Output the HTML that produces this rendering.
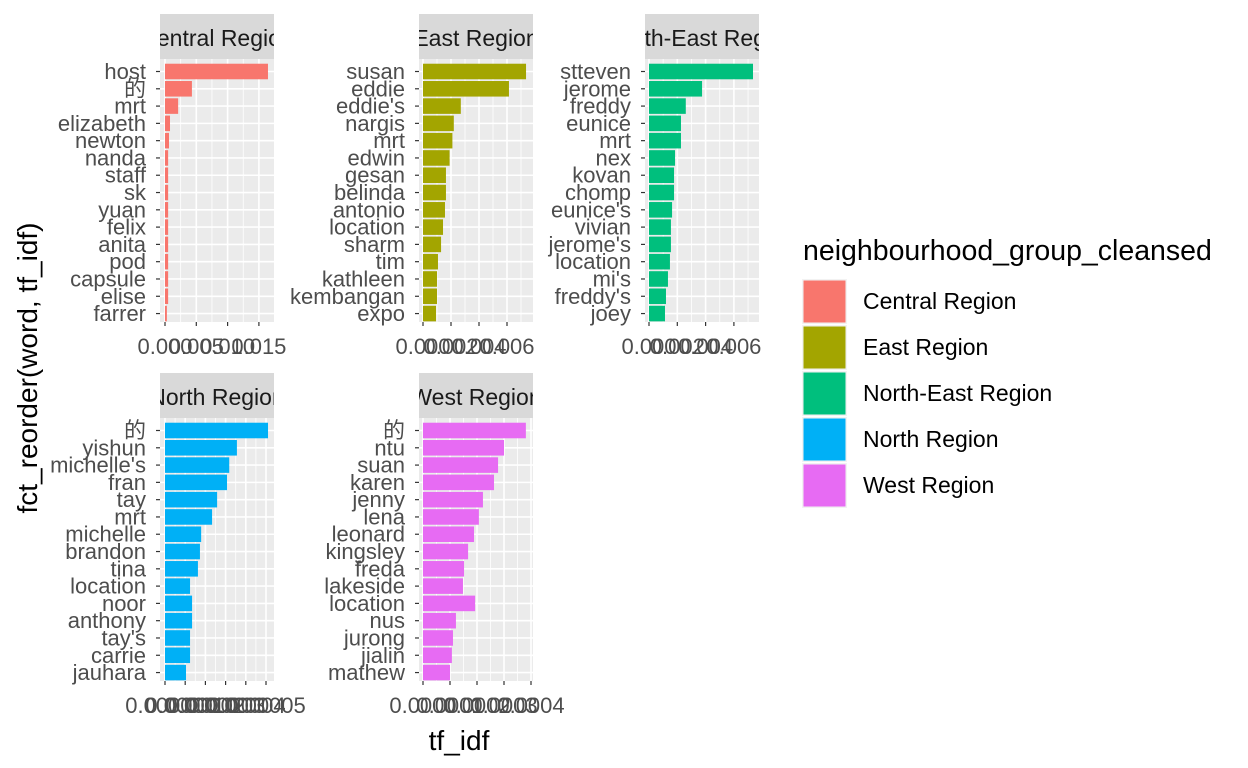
<!DOCTYPE html>
<html><head><meta charset="utf-8"><style>
body{margin:0;background:#fff;}
svg{display:block;font-family:"Liberation Sans","Noto Sans CJK SC",sans-serif;}
</style></head><body>
<svg id="c" width="1248" height="768"></svg>
<script>
const regions = ["Central Region","East Region","North-East Region","North Region","West Region"];
const colors = ["#F8766D","#A3A500","#00BF7D","#00B0F6","#E76BF3"];
const centralWords = ["host","的","mrt","elizabeth","newton","nanda","staff","sk","yuan","felix","anita","pod","capsule","elise","farrer"];
const centralValues = [0.01645,0.0043,0.0021,0.0008,0.00064,0.0005,0.0005,0.0005,0.0005,0.0005,0.0005,0.0005,0.0005,0.0005,0.0003];
const centralTicks = [0,0.005,0.010,0.015];
const centralTickLabels = ["0.000","0.005","0.010","0.015"];
const eastWords = ["susan","eddie","eddie's","nargis","mrt","edwin","gesan","belinda","antonio","location","sharm","tim","kathleen","kembangan","expo"];
const eastValues = [0.00736,0.00614,0.0027,0.0022,0.0021,0.0019,0.00164,0.00164,0.00157,0.00143,0.00129,0.00107,0.001,0.001,0.00093];
const eastTicks = [0,0.002,0.004,0.006];
const eastTickLabels = ["0.000","0.002","0.004","0.006"];
const neWords = ["stteven","jerome","freddy","eunice","mrt","nex","kovan","chomp","eunice's","vivian","jerome's","location","mi's","freddy's","joey"];
const neValues = [0.00735,0.00375,0.0026,0.00226,0.00226,0.00184,0.00177,0.00177,0.00163,0.00155,0.00155,0.00148,0.00134,0.0012,0.00113];
const neTicks = [0,0.002,0.004,0.006];
const neTickLabels = ["0.000","0.002","0.004","0.006"];
const northWords = ["的","yishun","michelle's","fran","tay","mrt","michelle","brandon","tina","location","noor","anthony","tay's","carrie","jauhara"];
const northValues = [0.000051,0.0000356,0.0000318,0.0000307,0.0000258,0.0000233,0.0000179,0.0000173,0.0000163,0.0000124,0.0000134,0.0000134,0.0000124,0.0000124,0.0000104];
const northTicks = [0,0.00001,0.00002,0.00003,0.00004,0.00005];
const northTickLabels = ["0.00000","0.00001","0.00002","0.00003","0.00004","0.00005"];
const westWords = ["的","ntu","suan","karen","jenny","lena","leonard","kingsley","freda","lakeside","location","nus","jurong","jialin","mathew"];
const westValues = [0.000381,0.0003,0.000278,0.000263,0.000222,0.000207,0.000189,0.000167,0.000152,0.000148,0.000193,0.000122,0.000111,0.000107,0.0001];
const westTicks = [0,0.0001,0.0002,0.0003,0.0004];
const westTickLabels = ["0.0000","0.0001","0.0002","0.0003","0.0004"];

const NS="http://www.w3.org/2000/svg";
const svg=document.getElementById('c');
function mk(t,a,p){const e=document.createElementNS(NS,t);for(const k in a)e.setAttribute(k,a[k]);(p||svg).appendChild(e);return e;}

const panels=[
 {w:centralWords,v:centralValues,t:centralTicks,tl:centralTickLabels,x:160,y:14,px:165,scale:31.3/0.005},
 {w:eastWords,v:eastValues,t:eastTicks,tl:eastTickLabels,x:419,y:14,px:423,scale:28/0.002},
 {w:neWords,v:neValues,t:neTicks,tl:neTickLabels,x:645,y:14,px:649,scale:28.3/0.002},
 {w:northWords,v:northValues,t:northTicks,tl:northTickLabels,x:160,y:373,px:165,scale:20.2/0.00001},
 {w:westWords,v:westValues,t:westTicks,tl:westTickLabels,x:419,y:373,px:423,scale:27/0.0001}
];
const W=114, SH=45, PH=263;
panels.forEach((p,i)=>{
  const g=mk('g',{});
  
  
  const cid='clip'+i;
  const cp=mk('clipPath',{id:cid},g);mk('rect',{x:p.x,y:p.y,width:W,height:SH},cp);
  const strip=mk('rect',{x:p.x,y:p.y,width:W,height:SH,fill:'#d9d9d9'},g);
  
  
  const st=mk('text',{x:p.x+W/2,y:p.y+32,'text-anchor':'middle','font-size':23,fill:'#1a1a1a','clip-path':'url(#'+cid+')'},g);
  st.textContent=regions[i];
  
  
  const top=p.y+SH, bot=top+PH;
  mk('rect',{x:p.x,y:top,width:W,height:PH,fill:'#ebebeb'},g);
  const xs=v=>p.px+v*p.scale;
  const step=p.t[1]-p.t[0];
  for(let k=0;k<=p.t.length;k++){const mx=xs(p.t[0]+step*(k+0.5)); if(mx<p.x+W) mk('line',{x1:mx,x2:mx,y1:top,y2:bot,stroke:'#fff','stroke-width':0.8},g);}
  p.t.forEach(t=>{const tx=xs(t);if(tx<=p.x+W)mk('line',{x1:tx,x2:tx,y1:top,y2:bot,stroke:'#fff','stroke-width':1.6},g);});
  const n=p.w.length, band=17.29, y0=top+12.5;
  p.w.forEach((w,j)=>{
    const cy=y0+band*j;
    mk('line',{x1:p.x,x2:p.x+W,y1:cy,y2:cy,stroke:'#fff','stroke-width':1.6},g);
  });
  p.w.forEach((w,j)=>{
    const cy=y0+band*j;
    const b=mk('rect',{x:xs(0),y:cy-band*0.45,width:p.v[j]*p.scale,height:band*0.9,fill:colors[i]},g);
    
    
    mk('line',{x1:p.x-4,x2:p.x,y1:cy,y2:cy,stroke:'#333','stroke-width':1.2},g);
    const l=mk('text',{x:p.x-14,y:cy+7.5,'text-anchor':'end','font-size':22,fill:'#4d4d4d'},g);
    l.textContent=w;
    
    
  });
  p.t.forEach((t,k)=>{
    const tx=xs(t);
    mk('line',{x1:tx,x2:tx,y1:bot,y2:bot+4,stroke:'#333','stroke-width':1.2},g);
    const l=mk('text',{x:tx,y:bot+32,'text-anchor':'middle','font-size':22,fill:'#4d4d4d'},g);
    l.textContent=p.tl[k];
    
    
  });
});
const yt=mk('text',{x:0,y:0,transform:'translate(37,368) rotate(-90)','text-anchor':'middle','font-size':28,fill:'#000'});
yt.textContent='fct_reorder(word, tf_idf)';


const xt=mk('text',{x:459,y:750,'text-anchor':'middle','font-size':28,fill:'#000'});
xt.textContent='tf_idf';


const lg=mk('g',{});


const ltitle=mk('text',{x:803,y:260,'font-size':28.5,fill:'#000'},lg);
ltitle.textContent='neighbourhood_group_cleansed';


regions.forEach((r,i)=>{
  const y=279+i*46;
  mk('rect',{x:802,y:y,width:45,height:45,fill:'#f2f2f2'},lg);
  const k=mk('rect',{x:803.5,y:y+1.5,width:42,height:42,fill:colors[i]},lg);
  
  
  const t=mk('text',{x:863,y:y+30,'font-size':23,fill:'#000'},lg);
  t.textContent=r;
  
  
});
</script>
</body></html>
